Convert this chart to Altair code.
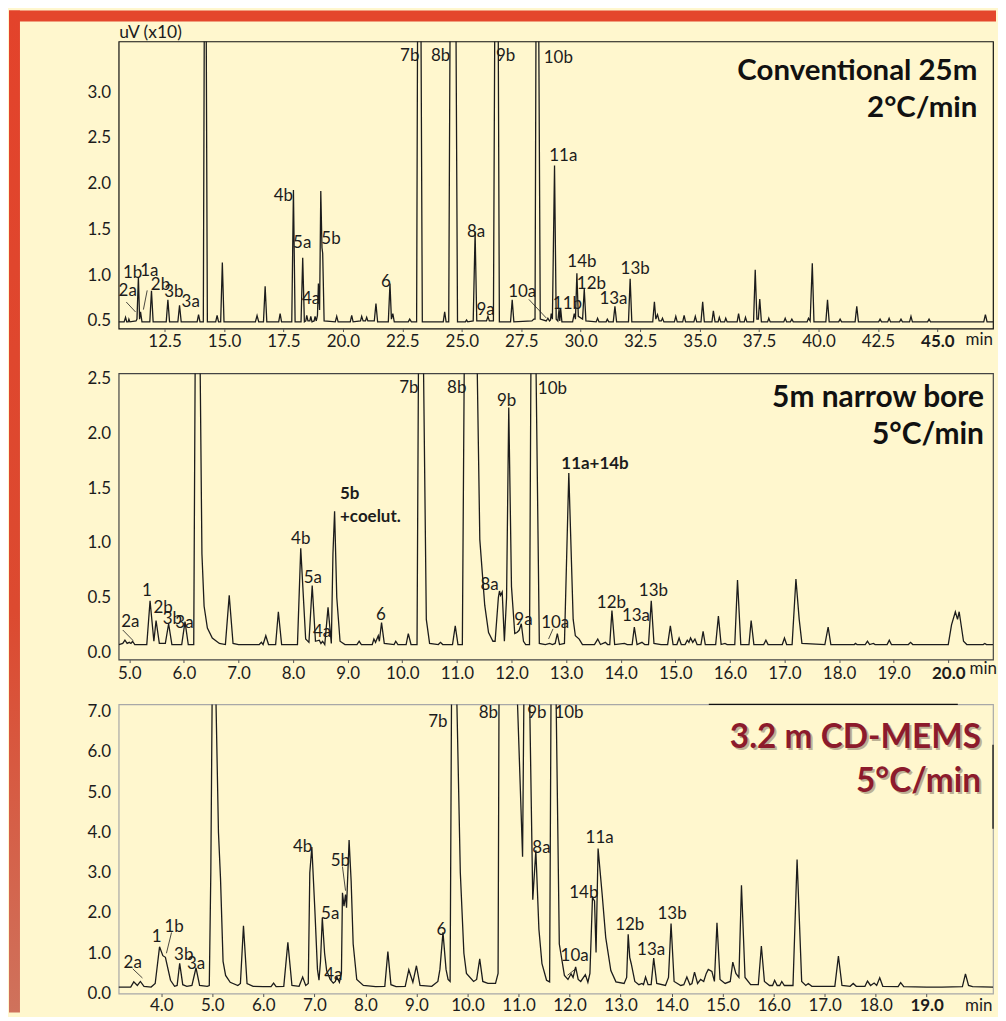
import altair as alt
import pandas as pd

FONT = "Lato"
INK = "#1c1c1c"
CREAM = "#FFF7CE"
ORANGE = "#E4472C"
RED_TXT = "#8C1B2C"
LABEL_SIZE = 17
TICK_SIZE = 17

# ======================= panel 1 : conventional 25 m, 2 C/min =======================
top_trace = [
    (10.57,0.49),(10.80,0.49),(10.86,0.54),(10.91,0.49),(10.97,0.49),(11.0,0.52),(11.04,0.49),
    (11.30,0.50),(11.34,0.52),(11.40,0.98),(11.45,0.52),(11.49,0.60),(11.55,0.49),(11.88,0.49),
    (11.95,0.83),(12.02,0.49),(12.57,0.49),(12.64,0.73),(12.71,0.49),(13.06,0.49),(13.13,0.67),
    (13.20,0.49),(13.87,0.49),(13.93,0.57),(13.99,0.49),(14.13,0.49),(14.18,4.5),(14.24,4.5),
    (14.30,0.49),(14.65,0.49),(14.71,0.56),(14.77,0.49),(14.86,0.49),(14.93,1.14),(15.00,0.49),
    (16.32,0.49),(16.39,0.56),(16.46,0.49),(16.66,0.49),(16.73,0.88),(16.80,0.49),(17.30,0.49),
    (17.36,0.58),(17.42,0.49),(17.85,0.49),(17.92,1.93),(17.99,0.49),(18.24,0.49),(18.31,1.19),
    (18.38,0.49),(18.44,0.50),(18.48,0.56),(18.53,0.50),(18.61,0.50),(18.65,0.55),(18.70,0.49),
    (18.79,0.50),(18.83,0.55),(18.88,0.50),(18.93,0.56),(18.97,0.91),(19.02,0.62),(19.07,1.92),
    (19.12,1.30),(19.15,1.24),(19.21,0.50),(19.68,0.49),(19.74,0.55),(19.80,0.49),(20.31,0.49),
    (20.37,0.56),(20.43,0.49),(20.74,0.50),(20.79,0.55),(20.85,0.50),(20.95,0.50),(21.00,0.54),
    (21.05,0.50),(21.32,0.50),(21.39,0.69),(21.46,0.49),(21.91,0.49),(21.98,0.91),(22.04,0.52),
    (22.10,0.58),(22.16,0.49),(22.75,0.49),(22.81,0.52),(22.88,0.49),(23.10,0.49),(23.15,4.5),
    (23.27,4.5),(23.34,0.49),(24.22,0.49),(24.28,0.60),(24.34,0.49),(24.45,0.49),(24.52,4.5),
    (24.74,4.5),(24.82,0.49),(25.15,0.49),(25.20,0.51),(25.25,0.49),(25.48,0.50),(25.56,1.47),
    (25.63,0.50),(26.04,0.50),(26.10,0.55),(26.16,0.50),(26.33,0.50),(26.40,4.5),(26.52,4.5),
    (26.58,0.49),(27.05,0.49),(27.12,0.73),(27.19,0.49),(27.95,0.50),(28.03,0.52),(28.08,0.52),
    (28.13,4.5),(28.22,4.5),(28.30,0.52),(28.55,0.50),(28.62,0.53),(28.69,0.50),(28.73,0.51),
    (28.76,0.58),(28.81,0.52),(28.90,2.20),(28.97,0.52),(29.04,0.50),(29.09,0.63),(29.12,0.50),
    (29.16,0.63),(29.21,0.49),(29.66,0.49),(29.73,0.58),(29.78,0.52),(29.84,1.02),(29.90,0.55),
    (30.08,0.52),(30.15,0.85),(30.22,0.50),(30.65,0.49),(30.71,0.53),(30.77,0.49),(31.07,0.49),
    (31.12,0.52),(31.18,0.49),(31.37,0.49),(31.44,0.66),(31.51,0.49),(32.01,0.49),(32.08,0.96),
    (32.15,0.49),(33.03,0.49),(33.10,0.71),(33.16,0.52),(33.23,0.57),(33.30,0.50),(33.39,0.50),
    (33.44,0.53),(33.50,0.49),(33.94,0.49),(34.00,0.55),(34.06,0.49),(34.29,0.49),(34.35,0.56),
    (34.41,0.49),(34.76,0.49),(34.82,0.55),(34.88,0.49),(35.06,0.49),(35.13,0.71),(35.20,0.49),
    (35.52,0.49),(35.58,0.61),(35.65,0.49),(35.78,0.49),(35.83,0.54),(35.89,0.49),(36.05,0.49),
    (36.10,0.53),(36.16,0.49),(36.58,0.49),(36.64,0.58),(36.70,0.49),(36.88,0.49),(36.93,0.54),
    (36.99,0.49),(37.27,0.49),(37.34,1.06),(37.41,0.52),(37.47,0.52),(37.53,0.74),(37.60,0.49),
    (37.86,0.49),(37.91,0.53),(37.97,0.49),(38.54,0.49),(38.60,0.53),(38.66,0.49),(38.82,0.49),
    (38.88,0.52),(38.94,0.49),(39.52,0.49),(39.58,0.53),(39.65,0.50),(39.74,1.13),(39.81,0.49),
    (40.31,0.49),(40.38,0.73),(40.45,0.49),(40.85,0.49),(40.91,0.52),(40.97,0.49),(41.54,0.49),
    (41.61,0.66),(41.68,0.49),(42.53,0.49),(42.59,0.52),(42.65,0.49),(42.91,0.49),(42.97,0.53),
    (43.03,0.49),(43.41,0.49),(43.47,0.52),(43.53,0.49),(43.83,0.49),(43.89,0.55),(43.95,0.49),
    (44.59,0.49),(44.65,0.52),(44.71,0.49),(46.95,0.49),(47.02,0.57),(47.09,0.49),(47.34,0.49),
]
top_labels = [
    ("7b",22.81,3.394),("8b",24.11,3.394),("9b",26.84,3.394),("10b",29.06,3.376),
    ("11a",29.27,2.302),("4b",17.50,1.862),("5a",18.29,1.35),("5b",19.50,1.393),
    ("4a",18.66,0.74),("6",21.81,0.925),("8a",25.60,1.477),("9a",26.0,0.617),
    ("1b",11.16,1.023),("1a",11.86,1.045),("2a",10.95,0.824),("2b",12.33,0.889),
    ("3b",12.89,0.816),("3a",13.60,0.707),("10a",27.54,0.816),("11b",29.44,0.682),
    ("14b",30.05,1.143),("12b",30.45,0.907),("13a",31.38,0.744),("13b",32.29,1.071),
    ("min",46.76,0.29),
]
top_bold_labels = []
top_leaders = [(10.89,0.707,11.28,0.598),(11.77,0.834,11.61,0.624),(27.82,0.736,28.55,0.533)]
top_header = [("Conventional 25m",46.68,3.228),("2°C/min",46.68,2.825)]
top_xticks = [12.5,15.0,17.5,20.0,22.5,25.0,27.5,30.0,32.5,35.0,37.5,40.0,42.5,45.0]
top_yticks = [0.5,1.0,1.5,2.0,2.5,3.0]
top_xdomain = [10.57,47.34]
top_ydomain = [0.417,3.555]

# ======================= panel 2 : 5 m narrow bore, 5 C/min =======================
mid_trace = [
    (4.81,0.07),(4.88,0.08),(4.92,0.11),(4.96,0.08),(5.0,0.09),(5.03,0.08),(5.06,0.10),(5.10,0.07),
    (5.32,0.07),(5.38,0.47),(5.45,0.10),(5.49,0.29),(5.55,0.08),(5.66,0.08),(5.72,0.26),(5.78,0.07),
    (5.96,0.07),(6.02,0.28),(6.08,0.07),(6.18,0.07),(6.21,3.0),(6.29,3.0),(6.33,0.9),(6.37,0.42),
    (6.43,0.22),(6.52,0.13),(6.65,0.08),(6.76,0.07),(6.83,0.52),(6.90,0.08),(7.0,0.07),(7.38,0.07),
    (7.42,0.09),(7.45,0.07),(7.50,0.15),(7.55,0.07),(7.68,0.07),(7.73,0.37),(7.79,0.07),(8.08,0.07),
    (8.14,0.95),(8.23,0.12),(8.29,0.09),(8.35,0.61),(8.41,0.10),(8.48,0.11),(8.51,0.08),(8.54,0.10),
    (8.58,0.07),(8.64,0.41),(8.70,0.08),(8.73,0.9),(8.76,1.29),(8.80,0.5),(8.86,0.10),(8.95,0.07),
    (9.17,0.07),(9.21,0.10),(9.25,0.07),(9.45,0.07),(9.48,0.12),(9.51,0.09),(9.56,0.15),(9.58,0.10),
    (9.62,0.27),(9.67,0.08),(9.85,0.07),(9.88,0.10),(9.92,0.07),(10.07,0.07),(10.11,0.17),(10.16,0.07),
    (10.27,0.07),(10.30,3.0),(10.38,3.0),(10.44,0.3),(10.50,0.08),(10.66,0.07),(10.70,0.09),(10.74,0.07),
    (10.92,0.07),(10.97,0.24),(11.02,0.07),(11.10,0.07),(11.14,3.0),(11.36,3.0),(11.42,1.03),(11.51,0.43),
    (11.58,0.18),(11.66,0.10),(11.70,0.10),(11.76,0.50),(11.78,0.56),(11.80,0.52),(11.83,0.55),(11.87,0.10),
    (11.91,0.5),(11.95,2.24),(12.0,0.6),(12.06,0.17),(12.10,0.18),(12.14,0.2),(12.18,0.26),(12.22,0.1),
    (12.26,0.07),(12.33,0.07),(12.36,3.0),(12.44,3.0),(12.51,0.08),(12.62,0.07),(12.70,0.08),(12.75,0.07),
    (12.80,0.08),(12.84,0.17),(12.88,0.07),(12.97,0.08),(13.05,1.64),(13.13,0.3),(13.17,0.15),(13.24,0.12),
    (13.30,0.07),(13.52,0.07),(13.58,0.12),(13.63,0.07),(13.72,0.09),(13.76,0.07),(13.80,0.07),(13.84,0.38),
    (13.89,0.07),(14.07,0.08),(14.12,0.07),(14.21,0.07),(14.25,0.23),(14.30,0.07),(14.39,0.09),(14.44,0.07),
    (14.51,0.07),(14.56,0.47),(14.61,0.08),(14.74,0.07),(14.86,0.07),(14.91,0.24),(14.96,0.07),(15.03,0.07),
    (15.07,0.13),(15.11,0.07),(15.18,0.07),(15.22,0.11),(15.25,0.09),(15.28,0.13),(15.32,0.09),(15.36,0.12),
    (15.40,0.07),(15.47,0.07),(15.51,0.19),(15.55,0.07),(15.74,0.07),(15.79,0.33),(15.84,0.07),(15.91,0.08),
    (15.95,0.07),(16.09,0.07),(16.14,0.66),(16.20,0.07),(16.35,0.07),(16.39,0.29),(16.44,0.07),(16.53,0.07),
    (16.62,0.07),(16.66,0.11),(16.70,0.07),(16.96,0.07),(17.0,0.13),(17.04,0.07),(17.14,0.07),(17.21,0.67),
    (17.27,0.3),(17.32,0.08),(17.74,0.07),(17.80,0.23),(17.85,0.07),(18.28,0.07),(18.30,0.08),(18.33,0.07),
    (18.48,0.07),(18.52,0.10),(18.56,0.07),(18.63,0.08),(18.66,0.07),(18.88,0.07),(18.92,0.11),(18.96,0.07),
    (19.27,0.07),(19.31,0.09),(19.35,0.07),(20.0,0.07),(20.06,0.25),(20.13,0.37),(20.17,0.30),(20.20,0.37),
    (20.28,0.10),(20.34,0.07),(20.64,0.07),(20.67,0.08),(20.70,0.07),(20.82,0.07),
]
mid_labels = [
    ("7b",10.12,2.418),("8b",10.997,2.418),("9b",11.91,2.302),("10b",12.75,2.409),
    ("4b",8.14,1.034),("5a",8.36,0.675),("4a",8.53,0.188),("6",9.61,0.34),
    ("1",5.32,0.557),("2b",5.62,0.401),("3b",5.79,0.304),("3a",6.01,0.265),("2a",5.02,0.279),
    ("8a",11.60,0.617),("9a",12.22,0.295),("10a",12.80,0.265),("12b",13.83,0.447),
    ("13a",14.28,0.328),("13b",14.60,0.557),("min",20.64,-0.152),
]
mid_bold_labels = [("11a+14b",13.53,1.724,"center"),("5b",8.86,1.451,"left"),("+coelut.",8.86,1.241,"left")]
mid_leaders = [(4.88,0.203,5.07,0.106),(12.68,0.121,12.76,0.213)]
mid_header = [("5m narrow bore",20.654,2.327),("5°C/min",20.654,1.985)]
mid_xticks = [5.0,6.0,7.0,8.0,9.0,10.0,11.0,12.0,13.0,14.0,15.0,16.0,17.0,18.0,19.0,20.0]
mid_yticks = [0.0,0.5,1.0,1.5,2.0,2.5]
mid_xdomain = [4.805,20.82]
mid_ydomain = [-0.0675,2.551]

# ======================= panel 3 : 3.2 m CD-MEMS, 5 C/min =======================
bot_trace = [
    (3.16,0.16),(3.40,0.16),(3.46,0.29),(3.53,0.20),(3.59,0.30),(3.66,0.18),(3.80,0.16),(3.88,0.25),
    (3.965,1.16),(4.03,0.94),(4.08,0.90),(4.18,0.33),(4.26,0.18),(4.31,0.20),(4.36,0.75),(4.42,0.22),
    (4.50,0.18),(4.60,0.20),(4.68,0.64),(4.75,0.20),(4.90,0.18),(4.94,0.2),(4.97,3.0),(5.00,8.0),
    (5.06,8.0),(5.12,4.0),(5.16,2.86),(5.21,0.8),(5.26,0.45),(5.35,0.28),(5.50,0.20),(5.55,0.25),
    (5.61,1.68),(5.68,0.25),(5.80,0.18),(6.0,0.17),(6.15,0.17),(6.20,0.26),(6.25,0.17),(6.40,0.18),
    (6.48,1.27),(6.56,0.20),(6.70,0.18),(6.77,0.41),(6.83,0.20),(6.88,0.25),(6.91,3.0),(6.95,3.64),
    (7.01,2.05),(7.06,0.6),(7.09,0.33),(7.12,0.8),(7.155,1.88),(7.20,1.0),(7.24,0.57),(7.31,0.35),
    (7.37,0.26),(7.41,0.30),(7.44,0.41),(7.49,0.28),(7.53,0.5),(7.55,2.5),(7.58,2.17),(7.61,2.46),
    (7.63,2.13),(7.68,3.81),(7.72,2.8),(7.76,1.23),(7.83,0.35),(7.96,0.2),(8.2,0.17),(8.38,0.18),
    (8.44,1.04),(8.50,0.22),(8.60,0.17),(8.78,0.18),(8.85,0.59),(8.93,0.28),(9.0,0.69),(9.07,0.2),
    (9.30,0.18),(9.42,0.3),(9.46,0.6),(9.52,1.52),(9.58,0.6),(9.62,0.35),(9.66,0.3),(9.69,8.0),
    (9.78,8.0),(9.86,3.0),(9.93,1.0),(9.98,0.5),(10.12,0.3),(10.18,0.35),(10.24,0.86),(10.30,0.3),
    (10.40,0.25),(10.55,0.25),(10.60,0.5),(10.62,8.0),(10.96,8.0),(11.08,3.4),(11.11,8.0),(11.21,8.0),
    (11.28,2.33),(11.34,3.56),(11.40,1.6),(11.46,0.74),(11.55,0.33),(11.61,0.29),(11.64,8.0),(11.73,8.0),
    (11.80,1.23),(11.90,0.45),(11.97,0.35),(12.03,0.49),(12.07,0.40),(12.12,0.66),(12.17,0.35),(12.22,0.30),
    (12.31,0.47),(12.36,0.28),(12.40,0.5),(12.45,2.38),(12.49,2.3),(12.52,1.02),(12.56,3.6),(12.64,2.46),
    (12.71,1.39),(12.81,0.57),(12.91,0.29),(13.07,0.25),(13.12,0.4),(13.15,1.47),(13.18,0.9),(13.21,0.74),
    (13.28,0.3),(13.36,0.22),(13.42,0.25),(13.45,0.22),(13.49,0.41),(13.54,0.22),(13.60,0.22),(13.65,0.88),
    (13.71,0.25),(13.88,0.2),(13.94,0.4),(13.99,1.74),(14.05,0.3),(14.18,0.2),(14.24,0.22),(14.30,0.41),
    (14.36,0.22),(14.40,0.25),(14.45,0.53),(14.51,0.25),(14.57,0.35),(14.63,0.3),(14.68,0.5),(14.72,0.6),
    (14.79,0.55),(14.84,0.3),(14.89,1.76),(14.95,0.35),(15.05,0.25),(15.15,0.3),(15.2,0.78),(15.26,0.5),
    (15.32,0.4),(15.37,2.69),(15.44,0.4),(15.55,0.22),(15.70,0.22),(15.76,1.18),(15.82,0.3),(15.92,0.2),
    (15.98,0.2),(16.02,0.33),(16.07,0.2),(16.12,0.2),(16.16,0.30),(16.21,0.2),(16.38,0.2),(16.46,3.33),
    (16.55,0.3),(16.63,0.2),(16.68,0.25),(16.75,0.18),(17.20,0.18),(17.27,0.93),(17.34,0.2),(17.50,0.18),
    (17.56,0.25),(17.62,0.18),(17.79,0.18),(17.84,0.31),(17.90,0.2),(17.97,0.26),(18.02,0.2),(18.08,0.39),
    (18.14,0.18),(18.44,0.17),(18.49,0.27),(18.55,0.17),(19.0,0.16),(19.3,0.16),(19.70,0.17),(19.76,0.49),
    (19.82,0.2),(19.90,0.17),(20.30,0.16),
]
bot_labels = [
    ("7b",9.42,6.755),("8b",10.41,6.96),("9b",11.36,6.96),("10b",11.99,6.96),
    ("8a",11.45,3.62),("11a",12.59,3.85),("14b",12.28,2.50),("12b",13.18,1.695),
    ("13a",13.60,1.08),("13b",14.01,1.965),("10a",12.10,0.943),("4b",6.77,3.628),
    ("5b",7.51,3.29),("5a",7.31,1.965),("4a",7.37,0.452),("6",9.49,1.572),
    ("1",3.91,1.41),("1b",4.25,1.656),("3b",4.44,0.968),("3a",4.68,0.737),("2a",3.44,0.761),
    ("min",20.02,-0.32),
]
bot_bold_labels = []
bot_leaders = [(3.44,0.614,3.63,0.386),(4.20,1.516,4.10,1.0),(7.55,3.154,7.61,2.555),(11.96,0.452,12.12,0.614)]
bot_frame_marks = [(14.73,7.18,19.61,7.18),(20.30,4.09,20.30,6.18)]
bot_header = [("3.2 m CD-MEMS",20.067,6.347),("5°C/min",20.067,5.257)]
bot_xticks = [4.0,5.0,6.0,7.0,8.0,9.0,10.0,11.0,12.0,13.0,14.0,15.0,16.0,17.0,18.0,19.0]
bot_yticks = [0.0,1.0,2.0,3.0,4.0,5.0,6.0,7.0]
bot_xdomain = [3.164,20.30]
bot_ydomain = [0.0,7.18]

PLOT_W = 877


def panel(trace, labels, bold_labels, leaders, header, xdom, ydom, xticks, yticks, bold_tick,
          height, frame, header_color, header_size, xpad, ytitle=None, frame_marks=None,
          decor=False, shadow=False):
    ax_x = alt.Axis(values=xticks, format=".1f", title=None, grid=False, domain=False,
                    tickSize=3, tickColor="#555555", labelPadding=xpad, labelFont=FONT,
                    labelFontSize=TICK_SIZE, labelColor=INK, labelFlush=False, labelOverlap=False,
                    labelFontWeight={"condition": {"test": f"datum.value == {bold_tick}", "value": "bold"},
                                     "value": "normal"})
    ax_y_kw = dict(values=yticks, format=".1f", grid=False, domain=False, tickSize=0,
                   labelPadding=8, labelFont=FONT, labelFontSize=TICK_SIZE, labelColor=INK,
                   labelFlush=False, labelOverlap=False)
    if ytitle:
        ax_y = alt.Axis(title=ytitle, titleAngle=0, titleAlign="left", titleBaseline="middle",
                        titleX=0, titleY=-9, titleFont=FONT, titleFontSize=17.5,
                        titleFontWeight="normal", titleColor=INK, **ax_y_kw)
    else:
        ax_y = alt.Axis(title=None, **ax_y_kw)
    X = alt.X("t:Q", scale=alt.Scale(domain=xdom, nice=False, zero=False), axis=ax_x)
    Y = alt.Y("v:Q", scale=alt.Scale(domain=ydom, nice=False, zero=False), axis=ax_y)

    layers = []
    if decor:
        # orange frame strips of the slide
        one = pd.DataFrame({"k": [0]})
        layers.append(alt.Chart(one).mark_rect(color=ORANGE, clip=False).encode(
            x=alt.value(-110), x2=alt.value(880), y=alt.value(-31), y2=alt.value(-20)))
        grad = alt.Gradient(gradient="linear", x1=0, x2=0, y1=0, y2=1,
                            stops=[alt.GradientStop(color="#E3432B", offset=0),
                                   alt.GradientStop(color="#DC4A30", offset=0.6),
                                   alt.GradientStop(color="#CF725C", offset=1)])
        layers.append(alt.Chart(one).mark_rect(color=grad, clip=False).encode(
            x=alt.value(-110), x2=alt.value(-99), y=alt.value(-31), y2=alt.value(974)))

    df_tr = pd.DataFrame(trace, columns=["t", "v"])
    layers.append(alt.Chart(df_tr).mark_line(color=INK, strokeWidth=1.3, clip=True).encode(x=X, y=Y))

    if leaders:
        df_ld = pd.DataFrame(leaders, columns=["t", "v", "t2", "v2"])
        layers.append(alt.Chart(df_ld).mark_rule(color=INK, strokeWidth=0.8).encode(
            x=X, y=Y, x2="t2:Q", y2="v2:Q"))
    if frame_marks:
        df_fm = pd.DataFrame(frame_marks, columns=["t", "v", "t2", "v2"])
        layers.append(alt.Chart(df_fm).mark_rule(color="#111111", strokeWidth=1.3, clip=False).encode(
            x=X, y=Y, x2="t2:Q", y2="v2:Q"))

    df_lb = pd.DataFrame(labels, columns=["label", "t", "v"])
    layers.append(alt.Chart(df_lb).mark_text(font=FONT, fontSize=LABEL_SIZE, color=INK, align="center",
                                              baseline="middle").encode(x=X, y=Y, text="label:N"))
    for lab, t, v, al in bold_labels:
        df_b = pd.DataFrame({"label": [lab], "t": [t], "v": [v]})
        layers.append(alt.Chart(df_b).mark_text(font=FONT, fontSize=LABEL_SIZE, fontWeight="bold", color=INK,
                                                 align=al, baseline="middle").encode(x=X, y=Y, text="label:N"))

    df_hd = pd.DataFrame(header, columns=["label", "t", "v"])
    if shadow:
        layers.append(alt.Chart(df_hd).mark_text(font=FONT, fontSize=header_size, fontWeight="bold",
                                                  color="#5a4a40", opacity=0.4, align="right",
                                                  baseline="middle", dx=2, dy=2).encode(x=X, y=Y, text="label:N"))
    layers.append(alt.Chart(df_hd).mark_text(font=FONT, fontSize=header_size, fontWeight="bold",
                                              color=header_color, align="right",
                                              baseline="middle").encode(x=X, y=Y, text="label:N"))

    return alt.layer(*layers).properties(width=PLOT_W, height=height,
                                         view=alt.ViewBackground(stroke=frame, strokeWidth=1.2))


p1 = panel(top_trace, top_labels, top_bold_labels, top_leaders, top_header, top_xdomain, top_ydomain,
           top_xticks, top_yticks, 45, 288, "#111111", "#111111", 29.5, 2, ytitle="uV (x10)", decor=True)
p2 = panel(mid_trace, mid_labels, mid_bold_labels, mid_leaders, mid_header, mid_xdomain, mid_ydomain,
           mid_xticks, mid_yticks, 20, 287, "#444444", "#111111", 30, 3)
p3 = panel(bot_trace, bot_labels, bot_bold_labels, bot_leaders, bot_header, bot_xdomain, bot_ydomain,
           bot_xticks, bot_yticks, 19, 290, "#a8a8a8", RED_TXT, 33.5, 1, frame_marks=bot_frame_marks,
           shadow=True)

chart = alt.vconcat(p1, p2, p3, spacing=45, bounds="flush").properties(
    background=CREAM, padding=0)

chart.save("out.html", embed_options={"renderer": "svg", "actions": False})
